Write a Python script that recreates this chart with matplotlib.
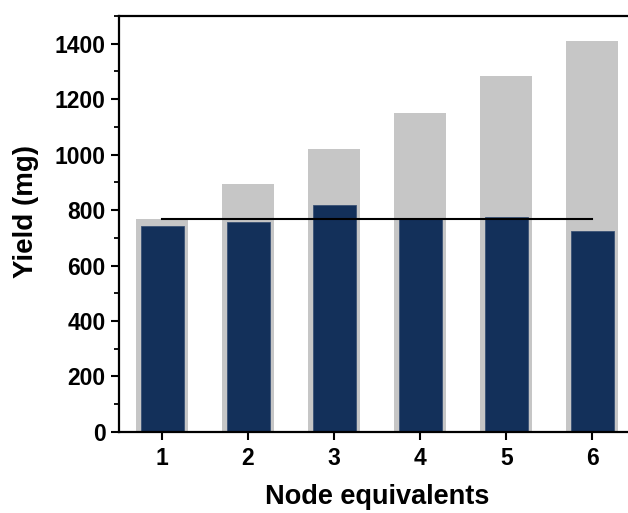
import matplotlib.pyplot as plt
from matplotlib.ticker import MultipleLocator

# values
nodes = [1, 2, 3, 4, 5, 6]
total_yield = [767, 895, 1020, 1150, 1282, 1411]
product_yield = [743, 757, 818, 768, 775, 723]
line_x = [1, 6]
line_y = [766, 766]

plt.rcParams['font.family'] = ['Liberation Sans', 'DejaVu Sans']
plt.rcParams['font.weight'] = 'bold'

fig = plt.figure(figsize=(6.28, 5.13), dpi=100)
ax = fig.add_axes([0.1895, 0.158, 0.822, 0.811])

ax.bar(nodes, total_yield, width=0.6, color='#c6c6c6', zorder=1)
ax.bar(nodes, product_yield, width=0.5, color='#13305a',
       edgecolor='#3a5275', linewidth=0.6, zorder=2)
ax.plot(line_x, line_y, color='black', linewidth=1.5, zorder=3)

ax.set_xlim(0.5, 6.5)
ax.set_ylim(0, 1500)
ax.set_xticks(nodes)
ax.yaxis.set_major_locator(MultipleLocator(200))
ax.yaxis.set_minor_locator(MultipleLocator(100))

ax.spines['right'].set_visible(False)
for s in ['left', 'bottom', 'top']:
    ax.spines[s].set_linewidth(1.6)

ax.tick_params(axis='both', which='major', direction='out', length=5.5, width=1.5,
               labelsize=16.5, pad=4)
ax.tick_params(axis='x', which='major', pad=5)
ax.tick_params(axis='y', which='minor', direction='out', length=3.5, width=1.3)
ax.tick_params(axis='x', which='minor', bottom=False)

ax.set_xlabel('Node equivalents', fontsize=19.5, fontweight='bold', labelpad=10.5)
ax.set_ylabel('Yield (mg)', fontsize=20, fontweight='bold')
ax.yaxis.set_label_coords(-0.155, 0.529)

fig.savefig('out.png', dpi=100)
